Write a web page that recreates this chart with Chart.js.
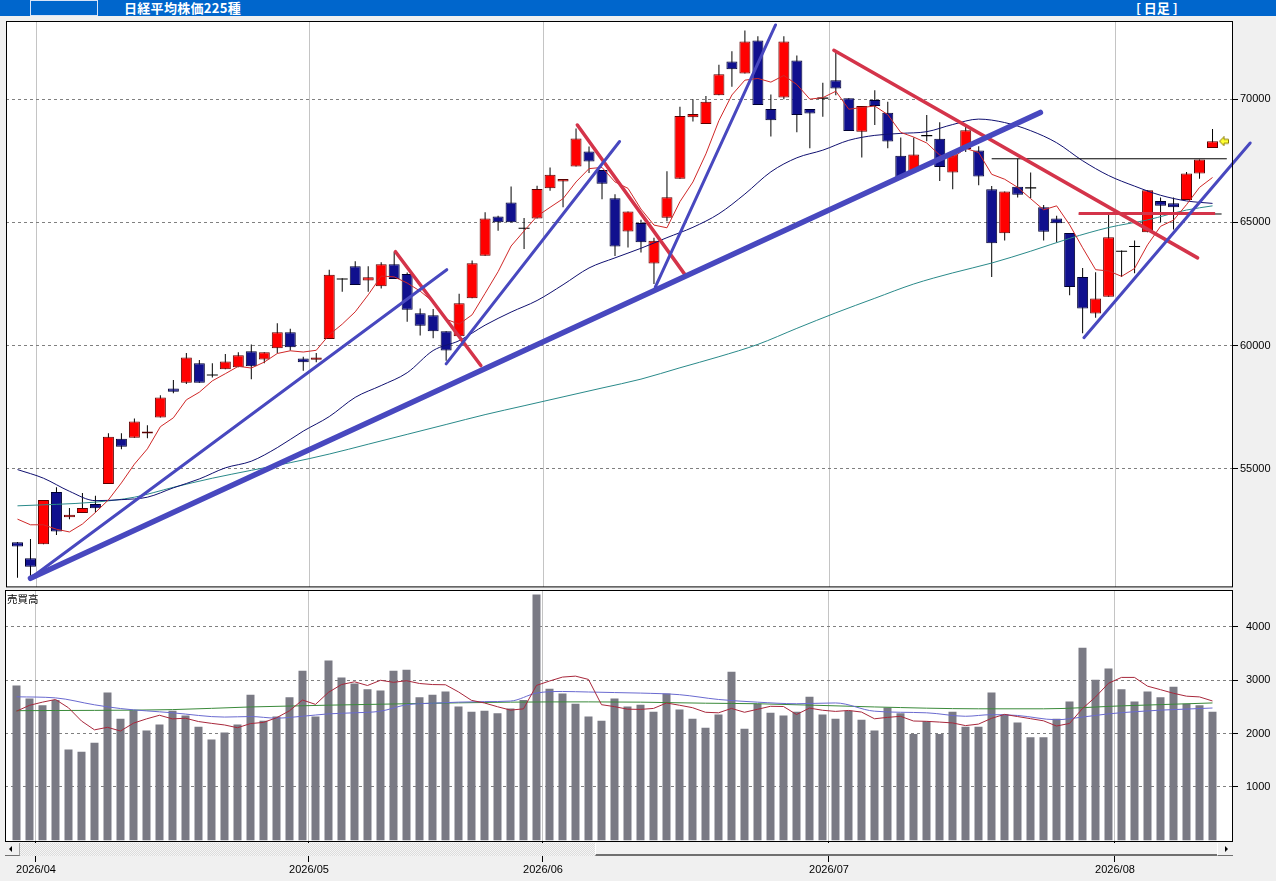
<!DOCTYPE html>
<html><head><meta charset="utf-8">
<script src="https://cdn.jsdelivr.net/npm/chart.js@4.4.1/dist/chart.umd.min.js"></script>
<style>
html,body{margin:0;padding:0;background:#f0f0f0;width:1276px;height:881px;overflow:hidden;font-family:"Liberation Sans",Arial,sans-serif;}
#hdr{position:absolute;left:0;top:0;width:1276px;height:16px;background:#0066cc;}
#box{position:absolute;left:30px;top:0;width:66px;height:14px;border:1px solid #d8e4f8;}
#title{position:absolute;left:124px;top:0;color:#fff;font-weight:bold;font-size:13px;font-family:"Noto Sans CJK JP",sans-serif;line-height:15px;letter-spacing:0.3px;}
#period{position:absolute;left:1136px;top:0;color:#fff;font-weight:bold;font-size:13px;font-family:"Noto Sans CJK JP",sans-serif;line-height:15px;white-space:pre;}
canvas{position:absolute;left:0;}
#pc{top:11px;z-index:2;}
#vc{top:574px;z-index:3;}
#vlabel{position:absolute;left:7px;top:591px;font-size:10.5px;font-family:"Noto Sans CJK JP",sans-serif;color:#000;z-index:5;}
#sb{position:absolute;left:5px;top:843px;width:1228px;height:13px;z-index:6;
 background:repeating-conic-gradient(#dcdcdc 0 25%,#f6f6f6 0 50%) 0 0/2px 2px;}
#sbl{position:absolute;left:0;top:0;width:14px;height:12px;background:#f0f0f0;border-right:1px solid #a0a0a0;border-bottom:1px solid #707070;}
#sbr{position:absolute;left:1212px;top:0;width:15px;height:12px;background:#f0f0f0;border-left:1px solid #ffffff;border-bottom:1px solid #707070;}
#thumb{position:absolute;left:590px;top:0;width:621px;height:11px;background:#f2f2f2;border-left:1px solid #ffffff;border-bottom:2px solid #707070;}
.tl{position:absolute;top:3px;left:4px;width:0;height:0;border-top:3px solid transparent;border-bottom:3px solid transparent;border-right:3px solid #000;}
.tr{position:absolute;top:3px;left:7px;width:0;height:0;border-top:3px solid transparent;border-bottom:3px solid transparent;border-left:3px solid #000;}
</style></head>
<body>
<div id="hdr"><div id="box"></div><div id="title">日経平均株価225種</div><div id="period">[ 日足 ]</div></div>
<canvas id="pc" width="1276" height="585"></canvas>
<canvas id="vc" width="1276" height="307"></canvas>
<div id="vlabel">売買高</div>
<div id="sb"><div id="sbl"><span class="tl"></span></div><div id="thumb"></div><div id="sbr"><span class="tr"></span></div></div>
<script>
// ---------------- DATA ----------------
const monthStarts = [2, 23, 41, 63, 85];
const monthLabels = ['2026/04', '2026/05', '2026/06', '2026/07', '2026/08'];
const priceTicks = [55000, 60000, 65000, 70000];
const volTicks = [1000, 2000, 3000, 4000];

const opens = [52020,51370,51940,54060,53040,53210,53570,54390,56220,56260,
56430,57080,58260,58490,59280,58830,59040,59120,59770,59440,
59890,60540,59480,59430,60270,62710,63220,62640,62410,63300,
62910,61310,61230,60580,60380,61920,63650,65240,65810,64780,
65160,66380,66660,67270,67880,67120,65980,64630,64970,63330,
65190,66770,69270,68990,70160,71530,71040,72380,69600,70070,
71570,69600,70060,70770,70040,68680,69960,69450,67700,67070,
68530,68390,67020,67980,67920,66340,64560,66450,66410,65610,
65160,64570,62780,61300,61980,63850,64030,64600,65870,65780,
65910,66980,68020];
const highs = [52030,52150,53740,54250,53410,54020,53910,56440,56440,57040,
56770,57990,58600,59700,59420,59280,59660,59730,60050,59730,
60910,60680,59550,59700,63080,62730,63420,63220,63380,63810,
62970,61510,61490,60580,62100,63450,65410,65270,66460,65180,
66490,67230,66760,68810,68080,67120,66140,65440,65110,64380,
67070,69690,70000,70130,71400,71940,72780,72550,70190,72550,
71770,69600,70660,71980,70040,69720,70360,69890,68440,68440,
69360,69060,67760,68900,68090,66480,66250,67580,67020,65700,
65270,64570,63150,62980,65340,63860,64260,66300,66010,66010,
67040,67550,68790];
const lows = [50580,50630,51940,52320,52960,53210,53230,54390,55790,56260,
56240,57080,58070,58440,58490,58710,59040,59120,58640,59280,
59690,59800,58980,59320,60270,62190,62460,62190,62320,62700,
60970,60410,60300,59390,60380,61920,63650,64660,65000,63920,
65160,66280,65610,67270,67000,65940,63640,63980,63780,62500,
65050,66770,69090,68990,70160,70500,71040,69760,68480,70000,
68660,68010,69290,70160,68710,67630,68950,68010,66830,67070,
68290,66680,66340,67850,66510,62780,64260,66010,65980,64260,
64190,62040,60500,61130,61980,62780,62940,64600,65000,64710,
65910,66770,68020];
const closes = [51850,51030,53740,52460,53140,53410,53400,56300,55900,56920,
56520,57890,58130,59520,58490,58810,59360,59610,59160,59730,
60540,59930,59320,59520,62870,62700,62460,62770,63300,62700,
61450,60810,60580,59800,61720,63340,65160,65000,65000,64760,
66350,66930,66760,68400,67470,66570,64020,65440,64190,64250,
66020,69320,69400,69890,71010,71210,72340,69760,69140,72340,
69360,69420,70040,70430,68710,69720,69720,68280,66830,67750,
68520,67250,67760,68740,66860,64150,66250,66120,66400,64620,
64960,62380,61510,61910,64400,63830,64020,66300,65670,65610,
66980,67550,68290];

// price moving averages
const ma5 = [52960,52730,52730,52550,52440,52760,53230,53740,54430,55190,
55810,56710,57070,57800,58110,58570,58860,59160,59090,59330,
59680,59790,59740,59810,60440,60870,61370,62060,62820,62790,
62540,62210,61770,61070,60870,61250,62120,63000,64040,64650,
65250,65610,65960,66640,67180,67230,66640,66380,65540,64890,
64780,65840,66640,67780,69130,70170,70770,70840,70690,70960,
70590,70000,70060,70320,69590,69660,69720,69370,68650,68460,
68220,67730,67620,68000,67830,66950,66750,66420,65960,65510,
65670,64900,63970,63080,63030,62810,63130,64090,64840,65090,
65720,66420,66820];
const ma25Idx = [0,2,4,6,8,10,12,14,16,18,20,22,24,26,28,30,32,34,36,38,40,42,44,46,48,50,52,54,56,58,60,62,64,66,68,70,72,74,76,78,80,82,84,86,88,90,92];
const ma25 = [54970,54620,54090,53710,53750,53850,54230,54590,55040,55310,55860,56530,57120,57900,58380,58900,59800,60200,60830,61360,61830,62470,63150,63560,63950,64380,64800,65350,66150,67050,67620,67930,68330,68530,68610,68680,68970,69190,69050,68720,68230,67500,66900,66470,66100,65870,65770];
const ma75Idx = [0,3,6,9,12,15,18,21,24,27,30,33,36,39,42,45,48,51,54,57,60,63,66,69,72,75,78,81,84,87,90,92];
const ma75 = [53500,53560,53650,53850,54250,54620,54940,55250,55600,56000,56400,56800,57200,57560,57920,58280,58640,59100,59550,60050,60700,61330,61920,62500,62950,63350,63830,64350,64790,65100,65500,65670];

// volume
const volumes = [2900,2660,2530,2630,1700,1660,1830,2770,2280,2440,
2060,2170,2430,2340,2130,1890,2020,2170,2730,2240,
2320,2680,3180,2320,3370,3050,2940,2830,2810,3180,
3200,2680,2730,2790,2510,2410,2430,2380,2470,2630,
4610,2840,2750,2560,2320,2240,2660,2510,2540,2410,
2750,2450,2280,2110,2360,3160,2090,2560,2390,2340,
2410,2690,2360,2280,2430,2260,2060,2490,2380,1990,
2230,1990,2410,2130,2130,2770,2360,2210,1930,1930,
2280,2600,3610,3010,3220,2830,2600,2790,2680,2880,
2560,2530,2410];
const volMa5 = [2420,2530,2590,2640,2484,2236,2070,2118,2048,2196,
2276,2344,2276,2288,2226,2192,2162,2110,2188,2210,
2296,2428,2630,2548,2774,2920,2972,2902,3000,2962,
2992,2940,2920,2916,2782,2624,2574,2504,2440,2464,
2904,2986,3060,3078,3016,2542,2506,2458,2454,2472,
2574,2532,2486,2400,2390,2472,2400,2456,2512,2508,
2358,2478,2438,2416,2434,2404,2278,2304,2324,2236,
2230,2216,2200,2150,2178,2286,2360,2320,2280,2240,
2142,2190,2470,2686,2944,3054,3054,2890,2824,2756,
2702,2688,2612];
const volMa25Idx = [0,3,6,8,12,16,18,20,22,24,26,28,30,32,34,36,38,40,42,44,46,48,51,54,57,60,63,66,70,73,75,77,80,82,84,86,88,90,92];
const volMa25 = [2690,2670,2540,2470,2390,2310,2320,2290,2325,2370,2390,2420,2540,2570,2590,2600,2610,2760,2790,2780,2770,2760,2730,2640,2590,2560,2575,2420,2390,2325,2355,2340,2260,2310,2370,2410,2440,2460,2480];
const volMa75Idx = [0,12,18,30,38,44,48,53,57,66,74,79,85,92];
const volMa75 = [2430,2450,2500,2560,2590,2595,2590,2570,2560,2500,2465,2465,2520,2575];

// hand-drawn trend lines: [[index, price], [index, price]]
const trendMain = [[1.0, 50560], [78.75, 69460]];
const trendBlue = [
  [[1.0, 50560], [33.05, 63080]],
  [[33.0, 59260], [46.35, 68280]],
  [[49.1, 62370], [58.36, 73010]],
  [[82.1, 60320], [94.9, 68220]]
];
const trendRed = [
  [[29.1, 63810], [35.67, 59190]],
  [[43.1, 68950], [51.4, 62870]],
  [[62.85, 71980], [90.85, 63560]],
  [[81.7, 65360], [92.2, 65360]]
];
const trendBlack = [
  [[75.0, 67580], [93.1, 67580]],
  [[81.7, 65340], [92.7, 65340]]
];

// ---------------- RENDER ----------------
const N = closes.length;
const idx = Array.from({length: N}, (_, i) => i);
const X_MIN = -0.8846, X_MAX = 93.577;
const FONT = {family: 'Liberation Sans', size: 11};
const isDoji = i => Math.abs(opens[i] - closes[i]) <= 30;
const UP_FILL = '#ff0000', UP_LINE = '#5a0000', DN_FILL = '#10108e', DN_LINE = '#000030';

const framePlugin = {
  id: 'frame',
  beforeDraw(c) {
    const {ctx, chartArea: a} = c;
    ctx.save(); ctx.fillStyle = '#ffffff'; ctx.fillRect(a.left, a.top, a.width, a.height); ctx.restore();
  },
  afterDraw(c) {
    const {ctx, chartArea: a} = c;
    ctx.save(); ctx.strokeStyle = '#000'; ctx.lineWidth = 1;
    ctx.strokeRect(a.left + 0.5, a.top + 0.5, a.width - 1, a.height - 1); ctx.restore();
  }
};

function xScale(showLabels, h) {
  return {
    type: 'linear', min: X_MIN, max: X_MAX, offset: false,
    afterBuildTicks: s => { s.ticks = monthStarts.map(v => ({value: v - 0.5})); },
    afterFit: s => { s.height = h; },
    ticks: showLabels ? {display: true, autoSkip: false, maxRotation: 0, minRotation: 0, font: FONT, color: '#000', padding: 1,
      callback: (v, i) => monthLabels[i]} : {display: false},
    grid: {color: '#c4c4c4', offset: false, drawTicks: showLabels, tickLength: 20, tickColor: '#000'},
    border: {display: false}
  };
}
function yScale(min, max, ticks, pad) {
  return {
    position: 'right', min, max,
    afterBuildTicks: s => { s.ticks = ticks.map(v => ({value: v})); },
    afterFit: s => { s.width = 43; },
    ticks: {font: FONT, color: '#000', padding: pad, callback: v => String(v)},
    grid: {color: '#808080', tickColor: '#000', tickLength: 5, tickBorderDash: []},
    border: {display: false, dash: [3, 3]}
  };
}
const pts = (ix, vals) => ix.map((x, k) => ({x, y: vals[k]}));
const seg = (s, color, w, extra) => Object.assign({type: 'line', data: s.map(p => ({x: p[0], y: p[1]})),
  borderColor: color, borderWidth: w, pointRadius: 0, fill: false, tension: 0, order: 1, borderCapStyle: 'round'}, extra || {});

function makeArrow() {
  const c = document.createElement('canvas'); c.width = 10; c.height = 10;
  const g = c.getContext('2d');
  g.fillStyle = '#ffff33'; g.strokeStyle = '#8a7a00'; g.lineWidth = 1;
  g.beginPath(); g.moveTo(0.5, 5); g.lineTo(5, 0.5); g.lineTo(5, 3); g.lineTo(9.5, 3); g.lineTo(9.5, 7);
  g.lineTo(5, 7); g.lineTo(5, 9.5); g.closePath(); g.fill(); g.stroke();
  return c;
}

const priceDatasets = [
  {type: 'bar', data: idx.map(i => ({x: i, y: [lows[i], highs[i]]})), backgroundColor: '#000', barThickness: 1,
   grouped: false, order: 20, borderWidth: 0, inflateAmount: 0},
  {type: 'bar', data: idx.map(i => ({x: i, y: isDoji(i) ? [closes[i] - 22, closes[i] + 22] : [opens[i], closes[i]]})),
   backgroundColor: idx.map(i => isDoji(i) ? '#000' : (closes[i] > opens[i] ? UP_FILL : DN_FILL)),
   borderColor: idx.map(i => isDoji(i) ? '#000' : (closes[i] > opens[i] ? UP_LINE : DN_LINE)),
   borderWidth: idx.map(i => isDoji(i) ? 0 : 1), borderSkipped: false, barThickness: 11, grouped: false, order: 19, inflateAmount: 0},
  {type: 'line', data: pts(idx, ma5), borderColor: '#d02828', borderWidth: 1, pointRadius: 0, tension: 0, order: 5},
  {type: 'line', data: pts(ma25Idx, ma25), borderColor: '#101070', borderWidth: 1, pointRadius: 0, tension: 0.4, cubicInterpolationMode: 'monotone', order: 5},
  {type: 'line', data: pts(ma75Idx, ma75), borderColor: '#2a8a8a', borderWidth: 1, pointRadius: 0, tension: 0.4, cubicInterpolationMode: 'monotone', order: 5},
  seg(trendMain, '#4848bf', 5.5),
  seg(trendBlue[0], '#4848bf', 3),
  seg(trendBlue[1], '#4848bf', 3),
  seg(trendBlue[2], '#4848bf', 3),
  seg(trendBlue[3], '#4848bf', 3, {clip: false}),
  seg(trendRed[0], '#d4344a', 3.5),
  seg(trendRed[1], '#d4344a', 3.5),
  seg(trendRed[2], '#d4344a', 3.5),
  seg(trendBlack[1], '#000', 1, {borderCapStyle: 'butt', order: 2}),
  seg(trendRed[3], '#d4344a', 3, {borderCapStyle: 'butt'}),
  seg(trendBlack[0], '#000', 1, {borderCapStyle: 'butt'}),
  {type: 'line', data: [{x: N - 1 + 0.88, y: closes[N - 1]}], showLine: false, pointStyle: makeArrow(), pointRadius: 5, order: 0, clip: false}
];

new Chart(document.getElementById('pc'), {
  type: 'bar',
  data: {datasets: priceDatasets},
  options: {
    responsive: false, animation: false, events: [],
    layout: {padding: {left: 5, top: 10, right: 0, bottom: 8}},
    plugins: {legend: {display: false}, tooltip: {enabled: false}},
    scales: {x: xScale(false, 0), y: yScale(50190, 73170, priceTicks, 2)}
  },
  plugins: [framePlugin]
});

new Chart(document.getElementById('vc'), {
  type: 'bar',
  data: {datasets: [
    {type: 'bar', data: idx.map(i => ({x: i, y: volumes[i]})), backgroundColor: '#7a7a84', barThickness: 8, grouped: false, order: 10, inflateAmount: 0},
    {type: 'line', data: pts(idx, volMa5), borderColor: '#a8283c', borderWidth: 1, pointRadius: 0, tension: 0, order: 2},
    {type: 'line', data: pts(volMa25Idx, volMa25), borderColor: '#6a6ad0', borderWidth: 1, pointRadius: 0, tension: 0.4, cubicInterpolationMode: 'monotone', order: 3},
    {type: 'line', data: pts(volMa75Idx, volMa75), borderColor: '#3a8a3a', borderWidth: 1, pointRadius: 0, tension: 0.4, cubicInterpolationMode: 'monotone', order: 3}
  ]},
  options: {
    responsive: false, animation: false, events: [],
    layout: {padding: {left: 5, top: 16, right: 0, bottom: 0}},
    plugins: {legend: {display: false}, tooltip: {enabled: false}},
    scales: {x: xScale(true, 39), y: yScale(-34, 4694, volTicks, 8)}
  },
  plugins: [framePlugin]
});
</script>
</body></html>
